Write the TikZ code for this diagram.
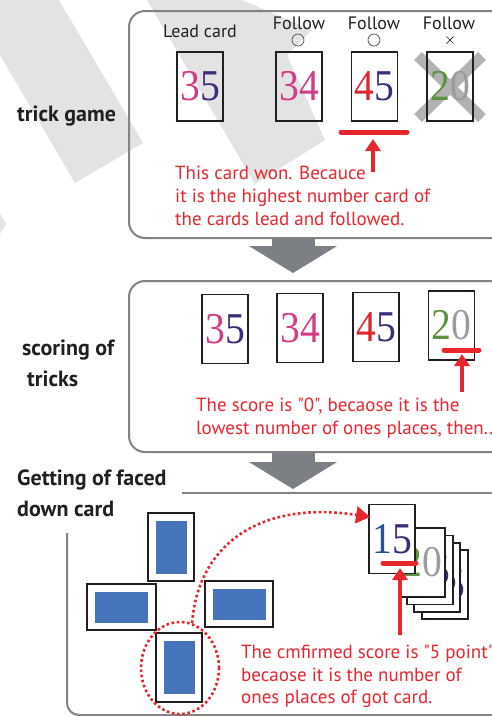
\documentclass[tikz,border=0pt]{standalone}
\usepackage{fontspec}
\usepackage{graphicx}
\usetikzlibrary{arrows.meta,shapes.geometric}
\newfontfamily\labfont{PT Sans}
\newfontfamily\numfont{Liberation Serif}
\definecolor{myred}{HTML}{E8262D}
\definecolor{panelgray}{HTML}{828386}
\definecolor{arrowgray}{HTML}{7C7F83}
\definecolor{wmgray}{HTML}{E3E3E3}
\definecolor{pinkc}{HTML}{D23C87}
\definecolor{purp}{HTML}{3D2C78}
\definecolor{redc}{HTML}{E0262C}
\definecolor{greenc}{HTML}{5E9141}
\definecolor{grayc}{HTML}{9C9C9C}
\definecolor{bluec}{HTML}{26529C}
\definecolor{cardblue}{HTML}{4674BB}
\definecolor{ink}{HTML}{231F20}
\newcommand{\cardnum}[4]{\scalebox{0.9}[1]{\numfont\fontsize{44}{44}\selectfont\textcolor{#1}{#2}\textcolor{#3}{#4}}}
\tikzset{
  lab/.style={font=\labfont\bfseries\fontsize{22}{26}\selectfont, text=ink, inner sep=0, anchor=base west},
  small/.style={font=\labfont\fontsize{18}{22}\selectfont, text=ink, inner sep=0, anchor=base},
  note/.style={font=\labfont\fontsize{19}{23}\selectfont, text=myred, align=left, inner sep=0, anchor=north west},
  panel/.style={draw=panelgray, line width=2pt, rounded corners=16pt, anchor=north west, inner sep=0},
  panelline/.style={draw=panelgray, line width=2pt},
  card/.style={draw=ink, line width=1.2pt, minimum width=46pt, minimum height=69pt, inner sep=0},
  backcard/.style={draw=ink, line width=1.4pt, fill=white, inner sep=0},
  blu/.style={fill=cardblue, inner sep=0},
  bigarrow/.style={draw=arrowgray, line width=43pt, -{Triangle[width=87pt,length=27pt]}},
  redarrow/.style={draw=myred, line width=4.5pt, -{Triangle[width=15pt,length=12pt]}},
  redbar/.style={draw=myred, line width=5pt, line cap=round},
  reddot/.style={draw=myred, line width=2.6pt, dash pattern=on 2.6pt off 2.6pt},
  xmark/.style={draw=black!30, line width=11pt},
  ring/.style={circle, draw=ink!80, line width=0.7pt, minimum size=12pt, inner sep=0},
}
\begin{document}
\begin{tikzpicture}[x=1pt,y=-1pt]
\useasboundingbox (0,0) rectangle (491,716);
% watermark bands
\fill[wmgray] (0,0) -- (59,0) -- (143,143) -- (75,183) -- (0,55) -- cycle;
\fill[wmgray] (147,0) -- (242,0) -- (312,30) -- (287,55) -- (325,140) -- (255,184) -- cycle;
\fill[wmgray] (0,213) -- (6,224) -- (0,234) -- cycle;

% big gray arrows
\coordinate (g1s) at (293,237); \coordinate (g1e) at (293,273);
\coordinate (g2s) at (293,451); \coordinate (g2e) at (293,489);
\draw[bigarrow] (g1s) -- (g1e);
\draw[bigarrow] (g2s) -- (g2e);

% panels
\node[panel, minimum width=400pt, minimum height=227pt] (box1) at (128,10) {};
\node[panel, minimum width=400pt, minimum height=171pt] (box2) at (128,280) {};
\coordinate (p3a) at (182,493); \coordinate (p3b) at (495,493);
\draw[panelline] (p3a) -- (p3b);
\coordinate (p3c) at (67,533); \coordinate (p3d) at (67,715); \coordinate (p3e) at (495,715);
\draw[panelline, rounded corners=12pt] (p3c) -- (p3d) -- (p3e);

% section labels
\node[lab] (s1) at (17,121) {trick game};
\node[lab] (s2a) at (22,355) {scoring of};
\node[lab] (s2b) at (27,386) {tricks};
\node[lab] (s3a) at (17,485) {Getting of faced};
\node[lab] (s3b) at (17,516) {down card};

% box 1
\node[small] (lead) at (200,37) {Lead card};
\node[small] (f1) at (299,29) {Follow};
\node[small] (f2) at (374,29) {Follow};
\node[small] (f3) at (449,29) {Follow};
\node[ring] (o1) at (298,40) {};
\node[ring] (o2) at (374,40) {};
\node[inner sep=0] (x3) at (450,40) {};
\draw[ink, line width=0.7pt] ([shift={(-3.5,-3.5)}]x3.center) -- ([shift={(3.5,3.5)}]x3.center);
\draw[ink, line width=0.7pt] ([shift={(-3.5,3.5)}]x3.center) -- ([shift={(3.5,-3.5)}]x3.center);
\node[card] (c11) at (200,86.5) {\cardnum{pinkc}{3}{purp}{5}};
\node[card] (c12) at (299,86.5) {\cardnum{pinkc}{3}{pinkc}{4}};
\node[card] (c13) at (374.5,86.5) {\cardnum{redc}{4}{purp}{5}};
\coordinate (xa) at (418,56); \coordinate (xb) at (482,118);
\coordinate (xc) at (482,56); \coordinate (xd) at (418,118);
\draw[xmark] (xa) -- (xb);
\draw[xmark] (xc) -- (xd);
\node[card] (c14) at (450,86.5) {\cardnum{greenc}{2}{grayc}{0}};
\coordinate (u1a) at (341,132); \coordinate (u1b) at (407,132);
\draw[redbar] (u1a) -- (u1b);
\coordinate (a1s) at (373,172); \coordinate (a1e) at (373,139);
\draw[redarrow] (a1s) -- (a1e);
\node[note] (t1) at (175,166) {This card won. Becauce\\it is the highest number card of\\the cards lead and followed.};

% box 2
\node[card] (c21) at (225,329) {\cardnum{pinkc}{3}{purp}{5}};
\node[card] (c22) at (300,328) {\cardnum{pinkc}{3}{pinkc}{4}};
\node[card] (c23) at (376,327) {\cardnum{redc}{4}{purp}{5}};
\node[card] (c24) at (451.5,325.5) {\cardnum{greenc}{2}{grayc}{0}};
\coordinate (u2a) at (444,350); \coordinate (u2b) at (479,350);
\draw[redbar] (u2a) -- (u2b);
\coordinate (a2s) at (462,392); \coordinate (a2e) at (462,354);
\draw[redarrow] (a2s) -- (a2e);
\node[note] (t2) at (196,398) {The score is "0", becaose it is the\\lowest number of ones places, then...};

% section 3: face-down cards
\node[backcard, minimum width=46pt, minimum height=68pt] (d1) at (171,547) {};
\node[blu, minimum width=31pt, minimum height=53pt] (d1i) at (d1) {};
\node[backcard, minimum width=69pt, minimum height=46pt] (d2) at (121.5,607) {};
\node[blu, minimum width=53pt, minimum height=31pt] (d2i) at (d2) {};
\node[backcard, minimum width=68pt, minimum height=46pt] (d3) at (239,604) {};
\node[blu, minimum width=53pt, minimum height=31pt] (d3i) at (d3) {};
\node[backcard, minimum width=46pt, minimum height=69pt] (d4) at (179,667.5) {};
\node[blu, minimum width=31pt, minimum height=53pt] (d4i) at (d4) {};
\node[reddot, ellipse, minimum width=78pt, minimum height=92pt, inner sep=0] (circ) at (180,668) {};

% stack of won cards
\node[card, fill=white] (k5) at (445,584.5) {\cardnum{pinkc}{3}{purp}{5}};
\node[card, fill=white] (k4) at (437,577.5) {\cardnum{pinkc}{3}{purp}{5}};
\node[card, fill=white] (k3) at (430,570) {\cardnum{redc}{4}{purp}{5}};
\node[card, fill=white] (k2) at (422,562.5) {\cardnum{greenc}{2}{grayc}{0}};
\node[card, fill=white] (k1) at (392,539) {\cardnum{bluec}{1}{purp}{5}};
\coordinate (tgt) at (370,517);
\draw[reddot, -{Triangle[width=17pt,length=14pt]}] (circ.75) .. controls (198,545) and (260,500) .. (tgt);
\coordinate (u3a) at (383,563); \coordinate (u3b) at (416,563);
\draw[redbar] (u3a) -- (u3b);
\coordinate (a3s) at (400,635); \coordinate (a3e) at (400,568);
\draw[redarrow] (a3s) -- (a3e);
\node[note, font=\labfont\fontsize{19}{22.5}\selectfont] (t3) at (241,645) {The cmfirmed score is "5 point",\\becaose it is the number of\\ones places of got card.};
\end{tikzpicture}
\end{document}
